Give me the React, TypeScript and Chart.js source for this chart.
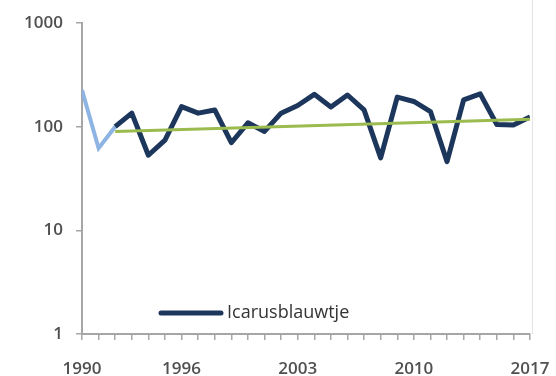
import React, { useEffect, useRef } from "react";
import { Chart, registerables } from "chart.js";

Chart.register(...registerables);

const years = [1990, 1991, 1992, 1993, 1994, 1995, 1996, 1997, 1998, 1999, 2000, 2001, 2002, 2003, 2004, 2005, 2006, 2007, 2008, 2009, 2010, 2011, 2012, 2013, 2014, 2015, 2016, 2017];
const xLabelYears = [1990, 1996, 2003, 2010, 2017];
const yTickValues = [1, 10, 100, 1000];

const earlyYears = [1990, 1991, 1992];
const earlyValues = [225, 62, 100];

const mainYears = [1992, 1993, 1994, 1995, 1996, 1997, 1998, 1999, 2000, 2001, 2002, 2003, 2004, 2005, 2006, 2007, 2008, 2009, 2010, 2011, 2012, 2013, 2014, 2015, 2016, 2017];
const mainValues = [100, 135, 53, 74, 156, 135, 145, 70, 109, 90, 135, 160, 205, 155, 202, 145, 50, 193, 175, 140, 46, 181, 207, 105, 104, 124];

const trendYears = [1992, 2017];
const trendValues = [90, 118];

const seriesName = "Icarusblauwtje";

const NAVY = "#1c365c";
const LIGHT = "#8db4e2";
const GREEN = "#9bbb4f";
const AXIS = "#a6a6a6";
const TEXT = "#505050";
const FONT = "'Open Sans', 'Liberation Sans', sans-serif";

const pairs = (xs: number[], ys: number[]) => xs.map((x, i) => ({ x, y: ys[i] }));

const frame = {
  id: "frame",
  afterDraw(chart: any) {
    const { ctx, chartArea } = chart;
    ctx.save();
    ctx.strokeStyle = "#e3e3e3";
    ctx.lineWidth = 1;
    ctx.beginPath();
    ctx.moveTo(chartArea.right + 2.5, 0);
    ctx.lineTo(chartArea.right + 2.5, chartArea.bottom);
    ctx.stroke();

    // legend inside the plot area
    const ds = chart.data.datasets.find((d: any) => d.label === seriesName);
    const x0 = chartArea.left + 79;
    const y0 = chartArea.bottom - 21;
    ctx.strokeStyle = ds.borderColor;
    ctx.lineWidth = 5;
    ctx.lineCap = "round";
    ctx.beginPath();
    ctx.moveTo(x0, y0);
    ctx.lineTo(x0 + 60, y0);
    ctx.stroke();
    ctx.fillStyle = "#333333";
    ctx.font = `18px ${FONT}`;
    ctx.textBaseline = "middle";
    ctx.textAlign = "left";
    ctx.fillText(ds.label, x0 + 66, y0);
    ctx.restore();
  },
};

export default function App() {
  const ref = useRef<HTMLCanvasElement | null>(null);
  useEffect(() => {
    if (!ref.current) return;
    const chart = new Chart(ref.current, {
      type: "line",
      data: {
        datasets: [
          {
            label: "trend",
            data: pairs(trendYears, trendValues),
            borderColor: GREEN,
            backgroundColor: GREEN,
            borderWidth: 3,
            pointRadius: 0,
            order: 0,
          },
          {
            label: seriesName,
            data: pairs(mainYears, mainValues),
            borderColor: NAVY,
            backgroundColor: NAVY,
            borderWidth: 5,
            pointRadius: 0,
            borderJoinStyle: "round",
            order: 1,
          },
          {
            label: "early",
            data: pairs(earlyYears, earlyValues),
            borderColor: LIGHT,
            backgroundColor: LIGHT,
            borderWidth: 4,
            pointRadius: 0,
            order: 2,
          },
        ],
      },
      options: {
        animation: false,
        responsive: true,
        maintainAspectRatio: false,
        layout: { padding: { left: 0, top: 23, right: 26, bottom: 0 } },
        plugins: {
          tooltip: { enabled: false },
          legend: { display: false },
        },
        scales: {
          x: {
            type: "linear",
            min: years[0],
            max: years[years.length - 1],
            afterBuildTicks: (scale: any) => {
              scale.ticks = years.map((v) => ({ value: v }));
            },
            afterFit: (scale: any) => {
              scale.height = 42;
              scale.paddingLeft = 0;
              scale.paddingRight = 0;
            },
            ticks: {
              autoSkip: false,
              maxRotation: 0,
              padding: 19,
              color: TEXT,
              font: { family: FONT, size: 17, weight: "600" },
              callback: (v: any) => (xLabelYears.includes(Number(v)) ? String(v) : ""),
            },
            grid: { drawOnChartArea: false, tickLength: 6, color: AXIS, lineWidth: 1.5 },
            border: { color: AXIS, width: 2 },
          },
          y: {
            type: "logarithmic",
            min: 1,
            max: 1000,
            afterBuildTicks: (scale: any) => {
              scale.ticks = yTickValues.map((v) => ({ value: v }));
            },
            afterFit: (scale: any) => {
              scale.width = 82;
              scale.paddingTop = 0;
              scale.paddingBottom = 0;
            },
            ticks: {
              padding: 13,
              color: TEXT,
              font: { family: FONT, size: 17, weight: "600" },
              callback: (v: any) => String(v),
            },
            grid: { drawOnChartArea: false, tickLength: 6, color: AXIS, lineWidth: 1.5 },
            border: { color: AXIS, width: 2 },
          },
        },
      },
      plugins: [frame],
    });
    return () => chart.destroy();
  }, []);
  return (
    <div style={{ position: "fixed", left: 0, top: 0, width: 556, height: 376, background: "#fff" }}>
      <canvas ref={ref} />
    </div>
  );
}
